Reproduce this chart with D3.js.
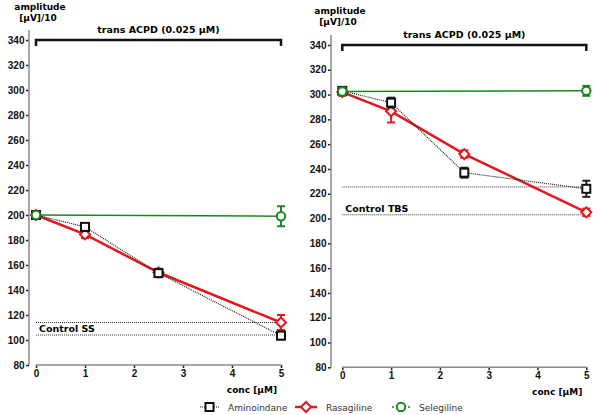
<!DOCTYPE html>
<html>
<head>
<meta charset="utf-8">
<script src="https://cdn.jsdelivr.net/npm/d3@7"></script>
<style>
  body { margin: 0; background: #fff; }
  svg { display: block; font-family: "DejaVu Sans", Verdana, sans-serif; }
</style>
</head>
<body>
<div id="chart"></div>
<script>
// concentrations (x) and axis ticks
var concs = [0, 1, 2.5, 5];
var seleConcs = [0, 5];
var yTicks = [80, 100, 120, 140, 160, 180, 200, 220, 240, 260, 280, 300, 320, 340];
var xTicks = [0, 1, 2, 3, 4, 5];
var seriesNames = ["Aminoindane", "Rasagiline", "Selegiline"];

// left panel (SS)
var leftAmino = [200, 190.5, 153.5, 103.5];
var leftAminoErr = [2, 3, 3, 3];
var leftRasa = [200, 184.5, 154, 114];
var leftRasaErr = [3, 3, 3, 6];
var leftSele = [200, 199];
var leftSeleErr = [2, 8];
var leftControl = [104, 114];

// right panel (TBS)
var rightAmino = [303, 293.5, 237, 224];
var rightAminoErr = [3, 4, 4, 6.5];
var rightRasa = [302, 286.5, 252, 205];
var rightRasaErr = [3, 9, 3, 3];
var rightSele = [302.5, 303];
var rightSeleErr = [3, 4];
var rightControl = [203, 225.5];

var width = 600, height = 415;
var red = "#e4161c", green = "#17891d";

var svg = d3.select("#chart").append("svg")
    .attr("width", width)
    .attr("height", height);

function marker(g, type, x, y, color) {
    if (type == "square") {
        g.append("rect").attr("x", x - 4).attr("y", y - 4).attr("width", 8).attr("height", 8)
            .attr("fill", "#fff").attr("stroke", color).attr("stroke-width", 2);
    } else if (type == "diamond") {
        var s = 5;
        g.append("path").attr("d", "M" + x + "," + (y - s) + "L" + (x + s) + "," + y + "L" + x + "," + (y + s) + "L" + (x - s) + "," + y + "Z")
            .attr("fill", "#fff").attr("stroke", color).attr("stroke-width", 2);
    } else {
        g.append("circle").attr("cx", x).attr("cy", y).attr("r", 4.2)
            .attr("fill", "#fff").attr("stroke", color).attr("stroke-width", 2);
    }
}

function drawPanel(p) {
    var x = d3.scaleLinear().domain([0, 5]).range([p.x0, p.x1]);
    var y = d3.scaleLinear().domain([80, 340]).range([p.y0, p.y1]);
    var g = svg.append("g");

    // y axis
    var ya = g.append("g").attr("transform", "translate(" + p.ax + ",0)")
        .call(d3.axisLeft(y).tickValues(yTicks).tickSize(3).tickPadding(1.5));
    ya.select(".domain").remove();
    g.append("line").attr("x1", p.ax).attr("x2", p.ax)
        .attr("y1", y(348)).attr("y2", y(80))
        .attr("stroke", "#8a8a8a").attr("stroke-width", 1.5);

    // x axis
    var xa = g.append("g").attr("transform", "translate(0," + p.y0 + ")")
        .call(d3.axisBottom(x).tickValues(xTicks).tickFormat(d3.format("d")).tickSize(3).tickPadding(2));
    xa.select(".domain").remove();
    g.append("line").attr("x1", x(0)).attr("x2", x(5))
        .attr("y1", p.y0).attr("y2", p.y0)
        .attr("stroke", "#8a8a8a").attr("stroke-width", 1.5);

    g.selectAll(".tick line").attr("stroke", "#222").attr("stroke-width", 1.5);
    g.selectAll(".tick text").attr("fill", "#111")
        .style("font-size", "10px").style("font-weight", "bold");

    // axis titles
    g.append("text").attr("x", p.ampX).attr("y", p.ampY).attr("text-anchor", "middle")
        .style("font-size", "9px").style("font-weight", "bold").text("amplitude");
    g.append("text").attr("x", p.ampX - 2).attr("y", p.ampY + 11).attr("text-anchor", "middle")
        .style("font-size", "9px").style("font-weight", "bold").text("[µV]/10");
    g.append("text").attr("x", x(5) - 4).attr("y", p.y0 + 28).attr("text-anchor", "end")
        .style("font-size", "9px").style("font-weight", "bold").text("conc [µM]");

    // bracket
    g.append("path")
        .attr("d", "M" + x(0) + "," + (y(340) + 6) + "V" + y(340) + "H" + x(5) + "V" + (y(340) + 6))
        .attr("fill", "none").attr("stroke", "#111").attr("stroke-width", 2.5);
    g.append("text").attr("x", (x(0) + x(5)) / 2).attr("y", y(340) - 7).attr("text-anchor", "middle")
        .style("font-size", "9.5px").style("font-weight", "bold").text("trans ACPD (0.025 µM)");

    // control lines
    g.selectAll(".ctrl").data(p.control).enter().append("line")
        .attr("x1", x(0)).attr("x2", x(5))
        .attr("y1", function (d) { return y(d); }).attr("y2", function (d) { return y(d); })
        .attr("stroke", "#333").attr("stroke-width", 1).attr("stroke-dasharray", "1,1");
    g.append("text").attr("x", x(0) + 3).attr("y", y(p.control[0]) - 3)
        .style("font-size", "9.5px").style("font-weight", "bold").text(p.controlLabel);

    var line = d3.line().x(function (d) { return x(d[0]); }).y(function (d) { return y(d[1]); });

    var series = [
        { xs: concs, vals: p.rasa, err: p.rasaErr, color: red, width: 2.5, dash: null, type: "diamond" },
        { xs: concs, vals: p.amino, err: p.aminoErr, color: "#222", width: 1.2, dash: "1,1", type: "square" },
        { xs: seleConcs, vals: p.sele, err: p.seleErr, color: green, width: 1.5, dash: null, type: "circle" }
    ];

    series.forEach(function (s) {
        var pts = s.xs.map(function (c, i) { return [c, s.vals[i]]; });
        g.append("path").datum(pts).attr("d", line)
            .attr("fill", "none").attr("stroke", s.color).attr("stroke-width", s.width)
            .attr("stroke-dasharray", s.dash);
    });

    series.forEach(function (s) {
        s.xs.forEach(function (c, i) {
            var cx = x(c), top = y(s.vals[i] + s.err[i]), bot = y(s.vals[i] - s.err[i]);
            var eb = g.append("g").attr("stroke", s.color).attr("stroke-width", 2);
            eb.append("line").attr("x1", cx).attr("x2", cx).attr("y1", top).attr("y2", bot);
            eb.append("line").attr("x1", cx - 4).attr("x2", cx + 4).attr("y1", top).attr("y2", top);
            eb.append("line").attr("x1", cx - 4).attr("x2", cx + 4).attr("y1", bot).attr("y2", bot);
            marker(g, s.type, cx, y(s.vals[i]), s.type == "square" ? "#111" : s.color);
        });
    });
}

drawPanel({
    x0: 36, x1: 281, y0: 365, y1: 40, ax: 29, ampX: 40, ampY: 10,
    amino: leftAmino, aminoErr: leftAminoErr, rasa: leftRasa, rasaErr: leftRasaErr,
    sele: leftSele, seleErr: leftSeleErr, control: leftControl, controlLabel: "Control SS"
});

drawPanel({
    x0: 342.3, x1: 586.3, y0: 367.3, y1: 45, ax: 331, ampX: 340, ampY: 14,
    amino: rightAmino, aminoErr: rightAminoErr, rasa: rightRasa, rasaErr: rightRasaErr,
    sele: rightSele, seleErr: rightSeleErr, control: rightControl, controlLabel: "Control TBS"
});

// legend
var legend = [
    { name: seriesNames[0], x: 200, x2: 219, color: "#111", dash: "1,1", width: 1, type: "square" },
    { name: seriesNames[1], x: 295, x2: 317, color: red, dash: null, width: 2.5, type: "diamond" },
    { name: seriesNames[2], x: 392, x2: 410, color: green, dash: "2,2", width: 1.5, type: "circle" }
];
var lg = svg.append("g");
legend.forEach(function (l) {
    var ly = 407;
    lg.append("line").attr("x1", l.x).attr("x2", l.x2).attr("y1", ly).attr("y2", ly)
        .attr("stroke", l.color).attr("stroke-width", l.width).attr("stroke-dasharray", l.dash);
    marker(lg, l.type, (l.x + l.x2) / 2, ly, l.color);
    lg.append("text").attr("x", l.x2 + 9).attr("y", ly + 3.5)
        .style("font-size", "9px").attr("fill", "#333").text(l.name);
});
</script>
</body>
</html>
